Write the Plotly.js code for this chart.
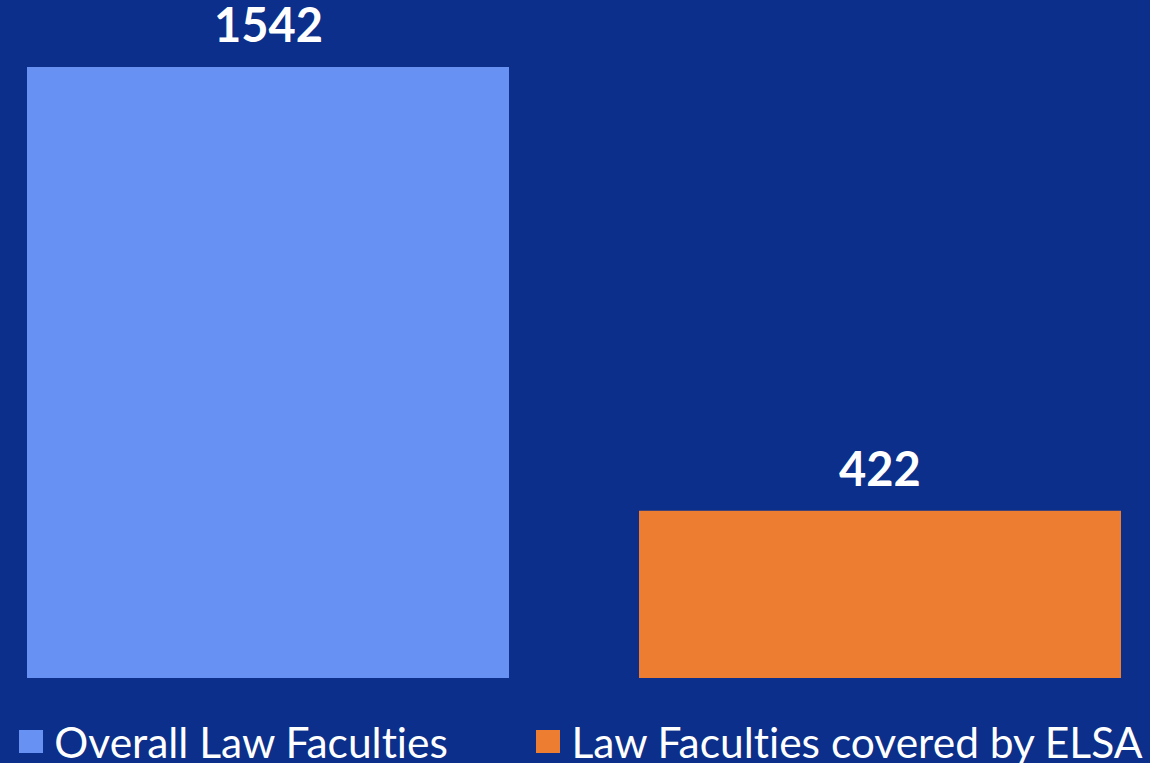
<!DOCTYPE html>
<html>
<head>
<meta charset="utf-8">
<script src="https://cdn.plot.ly/plotly-3.0.1.min.js"></script>
<style>html,body{margin:0;padding:0;background:#0B2F8A;}#chart{width:1150px;height:763px;}
#chart text{font-variant-ligatures:none;font-feature-settings:"liga" 0;}</style>
</head>
<body>
<div id="chart"></div>
<script>
const categories = ["Overall Law Faculties", "Law Faculties covered by ELSA"];
const values = [1542, 422];
const colors = ["#6891F4", "#ED7D31"];

const W = 1150, H = 763;
const plotBottom = 85;           // px below plot
const plotH = H - plotBottom;    // 678
const pxPerUnitY = 611 / 1542;
const yMax = plotH / pxPerUnitY;
const pxPerCat = 612;
const xMin = -268 / pxPerCat, xMax = (W - 268) / pxPerCat;

const traces = categories.map((c, i) => ({
  type: "bar",
  x: [i],
  y: [values[i]],
  name: c,
  width: 482 / pxPerCat,
  marker: {color: colors[i]},
  showlegend: false,
  hoverinfo: "skip"
}));

const annotations = categories.map((c, i) => ({
  x: i, y: values[i], xref: "x", yref: "y",
  text: "<b>" + values[i] + "</b>",
  showarrow: false, xanchor: "center", yanchor: "bottom", yshift: 13,
  font: {family: "Lato", size: 47, color: "#FFFFFF"}
}));

// custom legend (large square markers)
const legendX = [19, 536];
const shapes = [];
categories.forEach((c, i) => {
  shapes.push({type: "rect", xref: "paper", yref: "paper",
    x0: legendX[i] / W, x1: (legendX[i] + 24) / W,
    y0: (H - 753 - plotBottom) / plotH, y1: (H - 730 - plotBottom) / plotH,
    fillcolor: colors[i], line: {width: 0}});
  annotations.push({x: (legendX[i] + 33) / W, y: (H - 741 - plotBottom) / plotH,
    xref: "paper", yref: "paper", text: c, showarrow: false,
    xanchor: "left", yanchor: "middle",
    font: {family: "Lato", size: 42.5, color: "#FFFFFF"}});
});

const layout = {
  width: W, height: H,
  margin: {l: 0, r: 0, t: 0, b: plotBottom, pad: 0},
  paper_bgcolor: "#0B2F8A", plot_bgcolor: "#0B2F8A",
  xaxis: {range: [xMin, xMax], visible: false, fixedrange: true},
  yaxis: {range: [0, yMax], visible: false, fixedrange: true},
  showlegend: false,
  annotations: annotations,
  shapes: shapes
};

Plotly.newPlot("chart", traces, layout, {displayModeBar: false, staticPlot: true});
</script>
</body>
</html>
